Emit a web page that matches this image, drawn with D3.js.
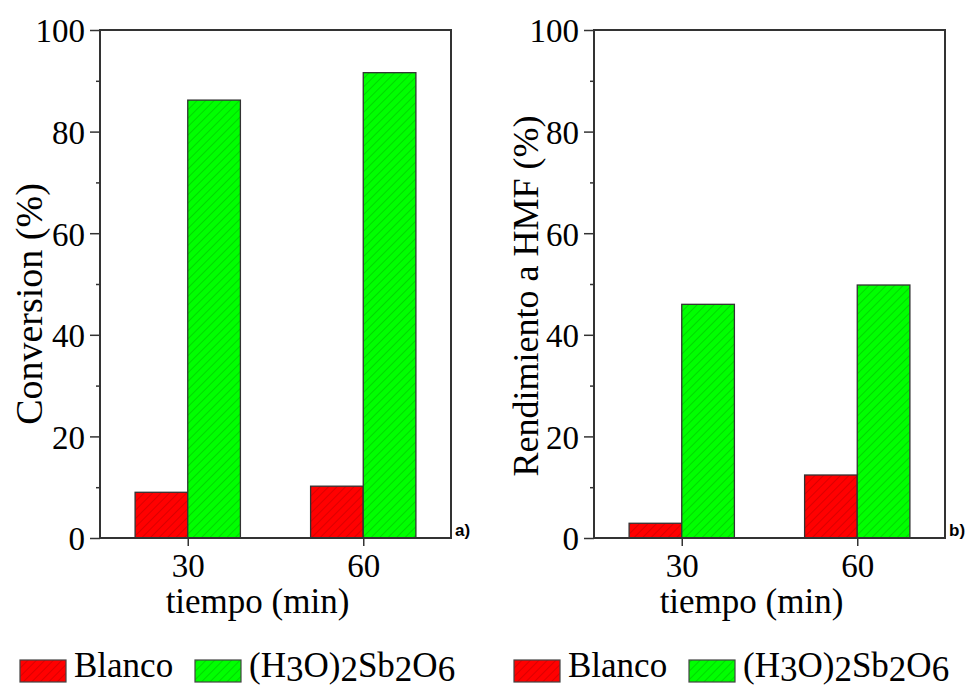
<!DOCTYPE html>
<html>
<head>
<meta charset="utf-8">
<script src="https://cdn.jsdelivr.net/npm/d3@7"></script>
<style>
  body { margin: 0; background: #fff; }
  svg { display: block; }
  text { font-family: "Liberation Serif", "Times New Roman", serif; fill: #000; }
</style>
</head>
<body>
<div id="chart"></div>
<script>
// data
var categories = ["30", "60"];
var seriesNames = ["Blanco", "(H3O)2Sb2O6"];
var conversionBlanco = [9.0, 10.2];
var conversionSb = [86.2, 91.6];
var rendimientoBlanco = [2.9, 12.4];
var rendimientoSb = [46.0, 49.8];
var majorTicks = [0, 20, 40, 60, 80, 100];
var minorTicks = [10, 30, 50, 70, 90];

var svgWidth = 968, svgHeight = 690;
var svg = d3.select("#chart").append("svg")
    .attr("width", svgWidth)
    .attr("height", svgHeight);

// hatch patterns
var defs = svg.append("defs");
function hatch(id, bg, line) {
    var p = defs.append("pattern")
        .attr("id", id)
        .attr("patternUnits", "userSpaceOnUse")
        .attr("width", 6).attr("height", 6)
        .attr("patternTransform", "rotate(45)");
    p.append("rect").attr("width", 6).attr("height", 6).attr("fill", bg);
    p.append("line").attr("x1", 0).attr("y1", 0).attr("x2", 0).attr("y2", 6)
        .attr("stroke", line).attr("stroke-width", 1);
}
hatch("hatchRed", "#ff0000", "#b80000");
hatch("hatchGreen", "#00ff00", "#00b400");
var fills = ["url(#hatchRed)", "url(#hatchGreen)"];

var panels = [
    {left: 100, title: "Conversion (%)", titleSize: 38, tag: "a)", values: [conversionBlanco, conversionSb], titleX: 42, titleY: 304},
    {left: 594, title: "Rendimiento a HMF (%)", titleSize: 36, tag: "b)", values: [rendimientoBlanco, rendimientoSb], titleX: 538, titleY: 296}
];
var plotTop = 30, plotBottom = 538, plotW = 351;

panels.forEach(function(p) {
    var g = svg.append("g");
    var x = d3.scalePoint().domain(categories).range([p.left, p.left + plotW]).padding(0.5);
    var y = d3.scaleLinear().domain([0, 100]).range([plotBottom, plotTop]);
    var barW = x.step() * 0.3;
    var inner = d3.scaleBand().domain(seriesNames).range([-barW, barW]);

    // bars
    seriesNames.forEach(function(s, si) {
        g.selectAll(null)
            .data(p.values[si])
            .enter()
            .append("rect")
            .attr("x", function(d, i) { return x(categories[i]) + inner(s); })
            .attr("y", function(d) { return y(d); })
            .attr("width", inner.bandwidth())
            .attr("height", function(d) { return y(0) - y(d); })
            .attr("fill", fills[si])
            .attr("stroke", "#333")
            .attr("stroke-width", 1.3);
    });

    // frame
    g.append("rect")
        .attr("x", p.left).attr("y", plotTop)
        .attr("width", plotW).attr("height", plotBottom - plotTop)
        .attr("fill", "none").attr("stroke", "#333").attr("stroke-width", 2);

    // y axis
    var yAxis = g.append("g")
        .attr("transform", "translate(" + p.left + ",0)")
        .call(d3.axisLeft(y).tickValues(majorTicks).tickSize(10).tickPadding(5));
    yAxis.select(".domain").remove();
    yAxis.selectAll("line").attr("stroke", "#333").attr("stroke-width", 1.5);
    yAxis.selectAll("text").attr("font-size", 33).attr("dy", "0.36em");

    var yMinor = g.append("g")
        .attr("transform", "translate(" + p.left + ",0)")
        .call(d3.axisLeft(y).tickValues(minorTicks).tickSize(4).tickFormat(""));
    yMinor.select(".domain").remove();
    yMinor.selectAll("line").attr("stroke", "#333").attr("stroke-width", 1.5);

    // x axis
    var xAxis = g.append("g")
        .attr("transform", "translate(0," + plotBottom + ")")
        .call(d3.axisBottom(x).tickSize(8).tickPadding(8));
    xAxis.select(".domain").remove();
    xAxis.selectAll("line").attr("stroke", "#333").attr("stroke-width", 1.5);
    xAxis.selectAll("text").attr("font-size", 33);

    // titles
    g.append("text")
        .attr("x", p.left + plotW / 2 - 18)
        .attr("y", 613)
        .attr("text-anchor", "middle")
        .attr("font-size", 35)
        .text("tiempo (min)");

    g.append("text")
        .attr("transform", "translate(" + p.titleX + "," + p.titleY + ") rotate(-90)")
        .attr("text-anchor", "middle")
        .attr("font-size", p.titleSize)
        .text(p.title);

    g.append("text")
        .attr("x", p.left + plotW + 4)
        .attr("y", 536)
        .style("font-family", "'Liberation Sans', Arial, sans-serif")
        .style("font-weight", "bold")
        .style("font-size", "17px")
        .text(p.tag);

    // legend
    var lg = g.append("g").attr("transform", "translate(" + (p.left - 80) + ",659)");
    var legendX = [0, 175];
    seriesNames.forEach(function(s, si) {
        lg.append("rect")
            .attr("x", legendX[si]).attr("y", 1)
            .attr("width", 46).attr("height", 22)
            .attr("fill", fills[si])
            .attr("stroke", "#444").attr("stroke-width", 1.2);
        var t = lg.append("text")
            .attr("x", legendX[si] + 54)
            .attr("y", 18)
            .attr("font-size", 35);
        if (si === 0) {
            t.text(s);
        } else {
            // chemical formula with subscripts
            var parts = [["(H", 0], ["3", 1], ["O)", 0], ["2", 1], ["Sb", 0], ["2", 1], ["O", 0], ["6", 1]];
            var prevSub = false;
            parts.forEach(function(pt) {
                var sub = pt[1] === 1;
                var dy = sub && !prevSub ? 4 : (!sub && prevSub ? -4 : 0);
                t.append("tspan").attr("dy", dy).text(pt[0]);
                prevSub = sub;
            });
        }
    });
});
</script>
</body>
</html>
